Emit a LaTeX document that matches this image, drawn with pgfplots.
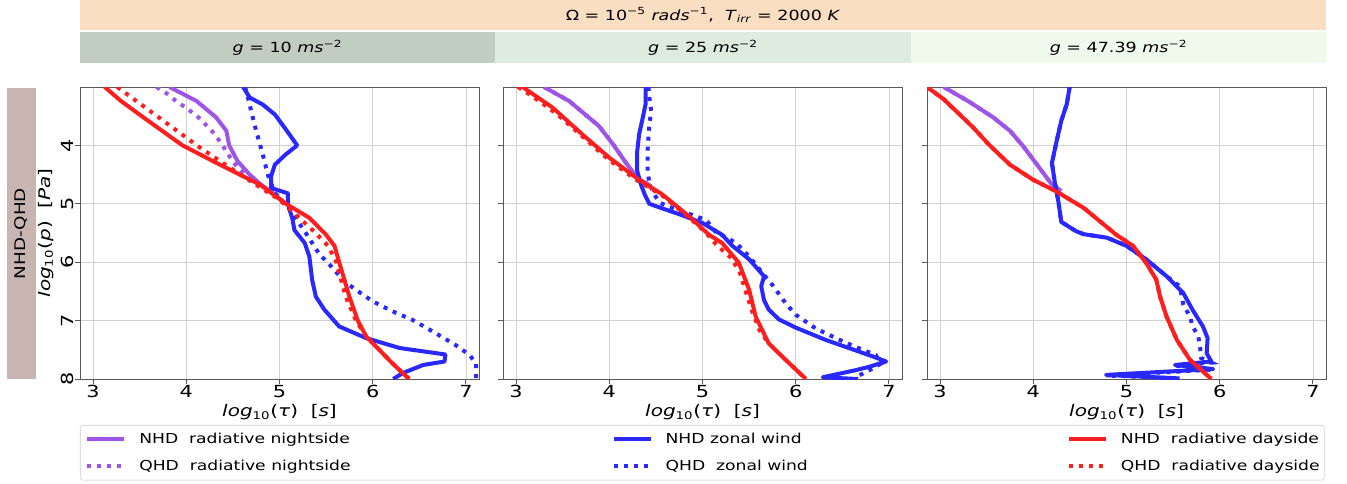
\documentclass[border=0pt]{standalone}
\usepackage{pgfplots}
\pgfplotsset{compat=1.18}
\usepackage{fontspec}
\setmainfont{DejaVu Sans}[FakeStretch=1.25]
\definecolor{cpurple}{RGB}{158,84,230}
\definecolor{cblue}{RGB}{40,40,255}
\definecolor{cred}{RGB}{255,30,30}
\definecolor{hdrtop}{RGB}{250,222,194}
\definecolor{hdrA}{RGB}{193,205,193}
\definecolor{hdrB}{RGB}{221,236,222}
\definecolor{hdrC}{RGB}{239,250,237}
\definecolor{sidebox}{RGB}{200,180,176}
\pgfplotsset{
  panel/.style={scale only axis, width=299.25pt, height=219pt, anchor=south west,
    xmin=2.86, xmax=7.14, ymin=3, ymax=8, y dir=reverse,
    xtick={3,4,5,6,7}, ytick={4,5,6,7,8},
    xtick pos=bottom, ytick pos=left,
    grid=major, major grid style={line width=0.6pt, color=black!18},
    axis line style={black!65, line width=0.7pt},
    tick align=outside, major tick length=3.5pt, tick style={black!65, line width=0.7pt},
    /pgf/number format/assume math mode=true,
    ticklabel style={font=\fontsize{12.5}{14}\selectfont, inner sep=1pt},
    xlabel={\textit{log}\textsubscript{10}(\textit{τ})\ \ [\textit{s}]},
    xlabel style={at={(axis description cs:0.5,-0.114)}, anchor=center, inner sep=0pt, font=\fontsize{12}{14}\selectfont},
  },
  sol/.style={line width=3pt, line join=round},
  dot/.style={line width=3pt, dash pattern=on 3pt off 4.5pt},
}
\begin{document}
\begin{tikzpicture}
\path (0,0) rectangle (1010.25pt,362.25pt);
% header
\fill[hdrtop] (60pt,339.75pt) rectangle (994.5pt,362.25pt);
\fill[hdrA] (60pt,315pt) rectangle (371.25pt,338.25pt);
\fill[hdrB] (371.25pt,315pt) rectangle (683.25pt,338.25pt);
\fill[hdrC] (683.25pt,315pt) rectangle (994.5pt,338.25pt);
\node[font=\fontsize{10.5}{12}\selectfont] at (527.25pt,351pt) {Ω = 10\textsuperscript{−5} \textit{rads}\textsuperscript{−1},\ \ \textit{T}\textsubscript{\textit{irr}} = 2000 \textit{K}};
\node[font=\fontsize{10.5}{12}\selectfont] at (215.6pt,326.6pt) {\textit{g} = 10 \textit{ms}\textsuperscript{−2}};
\node[font=\fontsize{10.5}{12}\selectfont] at (527.25pt,326.6pt) {\textit{g} = 25 \textit{ms}\textsuperscript{−2}};
\node[font=\fontsize{10.5}{12}\selectfont] at (838.9pt,326.6pt) {\textit{g} = 47.39 \textit{ms}\textsuperscript{−2}};
% side label
\fill[sidebox] (5.25pt,78pt) rectangle (27pt,296.25pt);
\node[rotate=90, font=\fontsize{11}{13}\selectfont] at (16.1pt,187.1pt) {NHD-QHD};

% panel 1
\begin{axis}[panel, at={(60pt,78pt)},
  ylabel={\textit{log}\textsubscript{10}(\textit{p})\ \ [\textit{Pa}]},
  ylabel style={at={(axis description cs:-0.0852,0.5)}, anchor=center, font=\fontsize{12}{14}\selectfont},
  yticklabel style={rotate=90, anchor=south},
  legend columns=3,
  legend cell align=left,
  legend style={at={(axis description cs:0,-0.1575)}, anchor=north west,
    draw=black!20, rounded corners=2pt, fill=white,
    inner xsep=3.75pt, inner ysep=6pt, row sep=10.5pt,
    nodes={inner sep=0pt},
    font=\fontsize{10.3}{12}\selectfont},
  legend image code/.code={\draw[#1] (0pt,0pt) -- (27.75pt,0pt);},
]
\addlegendimage{sol, cpurple}\addlegendentry{\makebox[364pt][l]{\hspace{9.75pt}NHD\ \ radiative nightside}}
\addlegendimage{sol, cblue}\addlegendentry{\makebox[310.75pt][l]{\hspace{9.75pt}NHD zonal wind}}
\addlegendimage{sol, cred}\addlegendentry{\makebox[158.5pt][l]{\hspace{9.75pt}NHD\ \ radiative dayside}}
\addlegendimage{dot, cpurple}\addlegendentry{\makebox[364pt][l]{\hspace{9.75pt}QHD\ \ radiative nightside}}
\addlegendimage{dot, cblue}\addlegendentry{\makebox[310.75pt][l]{\hspace{9.75pt}QHD\ \ zonal wind}}
\addlegendimage{dot, cred}\addlegendentry{\makebox[158.5pt][l]{\hspace{9.75pt}QHD\ \ radiative dayside}}
% NHD nightside
\addplot[sol, cpurple, forget plot] coordinates {(3.82,3.0) (4.11,3.24) (4.32,3.52) (4.43,3.75) (4.46,4.0) (4.55,4.27) (4.68,4.5) (4.80,4.67) (4.93,4.82) (5.07,5.0)};
% QHD nightside
\addplot[dot, cpurple, forget plot] coordinates {(3.68,3.0) (3.79,3.11) (3.89,3.24) (4.0,3.36) (4.11,3.49) (4.20,3.63) (4.29,3.78) (4.36,3.93) (4.43,4.10) (4.5,4.28) (4.59,4.44) (4.68,4.59) (4.79,4.67) (4.93,4.82)};
% NHD zonal
\addplot[sol, cblue, forget plot] coordinates {(4.61,3.0) (4.68,3.18) (4.82,3.3) (4.95,3.47) (5.07,3.73) (5.19,4.0) (5.07,4.15) (4.95,4.33) (4.91,4.53) (4.91,4.73) (5.09,4.82) (5.09,5.0) (5.14,5.27) (5.16,5.45) (5.27,5.67) (5.32,5.9) (5.35,6.3) (5.39,6.59) (5.48,6.81) (5.64,7.10) (5.93,7.30) (6.29,7.47) (6.78,7.58) (6.77,7.70) (6.54,7.76) (6.32,7.9) (6.22,8.0)};
% QHD zonal
\addplot[dot, cblue, forget plot] coordinates {(4.63,3.0) (4.65,3.1) (4.70,3.44) (4.76,3.81) (4.82,4.15) (4.86,4.41) (4.89,4.58) (4.96,4.83) (5.11,5.10) (5.21,5.33) (5.29,5.52) (5.43,5.87) (5.52,6.01) (5.68,6.3) (5.79,6.44) (6.0,6.67) (6.21,6.84) (6.43,6.99) (6.68,7.22) (6.89,7.42) (7.04,7.59) (7.11,7.74) (7.11,8.0)};
% NHD dayside
\addplot[sol, cred, forget plot] coordinates {(3.125,3.0) (3.30,3.24) (3.54,3.52) (3.75,3.76) (3.96,4.0) (4.36,4.33) (4.79,4.67) (5.07,5.0) (5.32,5.24) (5.5,5.53) (5.59,5.72) (5.64,6.0) (5.75,6.59) (5.84,7.0) (5.93,7.27) (6.21,7.73) (6.39,8.0)};
% QHD dayside
\addplot[dot, cred, forget plot] coordinates {(3.26,3.0) (3.73,3.55) (4.14,4.03) (4.57,4.49) (5.0,4.93) (5.375,5.48) (5.52,5.72) (5.61,6.0) (5.71,6.59) (5.82,7.0) (5.93,7.27) (6.21,7.73) (6.39,8.0)};
\end{axis}

% panel 2
\begin{axis}[panel, at={(377.25pt,78pt)}, yticklabels={}]
\addplot[sol, cpurple] coordinates {(3.30,3.0) (3.57,3.24) (3.89,3.67) (4.04,3.98) (4.18,4.30) (4.30,4.56) (4.45,4.7)};
\addplot[dot, cpurple] coordinates {(3.30,3.0) (3.57,3.24) (3.89,3.67) (4.04,3.98) (4.18,4.30) (4.30,4.56) (4.45,4.7)};
\addplot[sol, cblue] coordinates {(4.39,3.0) (4.39,3.29) (4.36,3.52) (4.32,3.81) (4.30,4.10) (4.30,4.44) (4.34,4.67) (4.38,4.84) (4.43,5.0) (4.57,5.08) (4.79,5.2) (5.0,5.33) (5.21,5.53) (5.32,5.72) (5.5,5.95) (5.66,6.24) (5.63,6.41) (5.66,6.65) (5.71,6.81) (5.82,6.98) (6.0,7.12) (6.32,7.33) (6.82,7.61) (6.97,7.70) (6.79,7.79) (6.64,7.85) (6.29,7.97) (6.66,8.0)};
\addplot[dot, cblue] coordinates {(4.42,3.0) (4.43,3.18) (4.45,3.41) (4.43,3.64) (4.42,3.87) (4.41,4.10) (4.41,4.44) (4.43,4.64) (4.48,4.84) (4.55,4.99) (4.68,5.07) (4.89,5.19) (5.04,5.28) (5.14,5.48) (5.36,5.67) (5.5,5.90) (5.64,6.18) (5.75,6.39) (5.89,6.70) (6.0,6.90) (6.21,7.13) (6.43,7.30) (6.64,7.45) (6.86,7.59) (6.91,7.74) (6.79,7.85) (6.64,7.97) (6.66,8.0)};
\addplot[sol, cred] coordinates {(3.07,3.0) (3.39,3.35) (3.71,3.81) (4.0,4.21) (4.32,4.59) (4.57,4.84) (4.86,5.22) (5.07,5.53) (5.21,5.67) (5.39,6.01) (5.5,6.47) (5.57,6.93) (5.71,7.39) (5.93,7.73) (6.11,8.0)};
\addplot[dot, cred] coordinates {(3.02,3.0) (3.12,3.1) (3.30,3.3) (3.45,3.48) (3.63,3.73) (3.80,3.97) (3.99,4.24) (4.16,4.44) (4.28,4.58) (4.57,4.86) (4.86,5.24) (5.04,5.5) (5.16,5.72) (5.31,5.93) (5.40,6.18) (5.47,6.53) (5.54,6.87) (5.61,7.16) (5.71,7.39) (5.93,7.73) (6.11,8.0)};
\end{axis}

% panel 3
\begin{axis}[panel, at={(695.25pt,78pt)}, yticklabels={}]
\addplot[sol, cpurple] coordinates {(3.04,3.0) (3.32,3.26) (3.57,3.52) (3.75,3.75) (3.89,4.01) (4.04,4.33) (4.20,4.67) (4.3,4.78)};
\addplot[dot, cpurple] coordinates {(3.04,3.0) (3.32,3.26) (3.57,3.52) (3.75,3.75) (3.89,4.01) (4.04,4.33) (4.20,4.67) (4.3,4.78)};
\addplot[sol, cblue] coordinates {(4.39,3.0) (4.36,3.29) (4.30,3.58) (4.25,3.93) (4.20,4.30) (4.23,4.62) (4.27,4.97) (4.30,5.31) (4.46,5.47) (4.54,5.52) (4.79,5.58) (5.0,5.72) (5.21,5.95) (5.43,6.24) (5.61,6.53) (5.71,6.82) (5.82,7.10) (5.87,7.30) (5.86,7.56) (5.91,7.70) (5.52,7.76) (5.93,7.83) (4.78,7.93) (5.57,7.99)};
\addplot[dot, cblue] coordinates {(4.39,3.0) (4.36,3.29) (4.30,3.58) (4.25,3.93) (4.20,4.30) (4.23,4.62) (4.27,4.97) (4.30,5.31) (4.46,5.47) (4.54,5.52) (4.79,5.58) (5.0,5.72) (5.21,5.95) (5.43,6.24) (5.57,6.41) (5.61,6.73) (5.68,6.93) (5.71,7.1) (5.77,7.27) (5.79,7.47) (5.80,7.64) (5.91,7.72) (5.52,7.77) (5.93,7.84) (4.78,7.94) (5.57,7.99)};
\addplot[sol, cred] coordinates {(2.86,3.0) (3.04,3.21) (3.21,3.47) (3.36,3.7) (3.52,3.98) (3.75,4.33) (4.0,4.59) (4.25,4.79) (4.54,5.07) (4.89,5.53) (5.07,5.72) (5.21,6.01) (5.32,6.30) (5.36,6.59) (5.43,6.93) (5.54,7.33) (5.68,7.67) (5.91,8.0)};
\addplot[dot, cred] coordinates {(2.86,3.0) (3.04,3.21) (3.21,3.47) (3.36,3.7) (3.52,3.98) (3.75,4.33) (4.0,4.59) (4.25,4.79) (4.54,5.07) (4.89,5.53) (5.07,5.72) (5.21,6.01) (5.32,6.30) (5.36,6.59) (5.43,6.93) (5.54,7.33) (5.68,7.67) (5.91,8.0)};
\end{axis}
\pgfresetboundingbox
\path[use as bounding box] (0,0) rectangle (1010.25pt,362.25pt);
\end{tikzpicture}
\end{document}
